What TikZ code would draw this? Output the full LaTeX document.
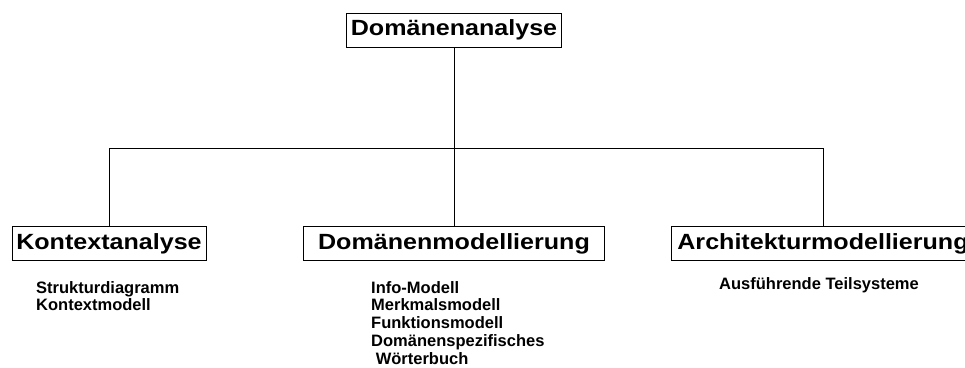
\documentclass[tikz,border=0pt]{standalone}
\usepackage{fontspec}
\setmainfont{Liberation Sans}
\newfontfamily\headfont{Liberation Sans}[FakeStretch=1.14]
\begin{document}
\begin{tikzpicture}[x=1pt,y=-1pt,
  topic/.style={draw,line width=1pt,inner sep=0pt,minimum height=34pt,
    font=\headfont\bfseries\fontsize{22}{24}\selectfont},
  items/.style={anchor=north west,inner sep=0pt,align=left,
    font=\bfseries\fontsize{16.5}{17.8}\selectfont},
  link/.style={line width=1pt}]
\useasboundingbox (0,0) rectangle (965,367);
\clip (0,0) rectangle (965,367);

% headings
\node[topic,minimum width=215pt] (top)  at (454,30)    {Domänenanalyse};
\node[topic,minimum width=194pt] (kon)  at (109,243.5) {Kontextanalyse};
\node[topic,minimum width=301pt] (dom)  at (454,243.5) {Domänenmodellierung};
\node[topic,minimum width=304pt] (arch) at (823,243.5) {Architekturmodellierung};

% tree connectors
\coordinate (bus) at (454,148);
\draw[link] (top.south) -- (dom.north);
\draw[link] (kon.north) |- (bus);
\draw[link] (arch.north) |- (bus);

% lists under each heading
\node[items] (konlist) at (36,281) {Strukturdiagramm\\Kontextmodell};
\node[items] (domlist) at (371,281) {Info-Modell\\Merkmalsmodell\\Funktionsmodell\\Domänenspezifisches\\\hspace*{4.6pt}Wörterbuch};
\node[items] (archlist) at (719,277) {Ausführende Teilsysteme};
\end{tikzpicture}
\end{document}
